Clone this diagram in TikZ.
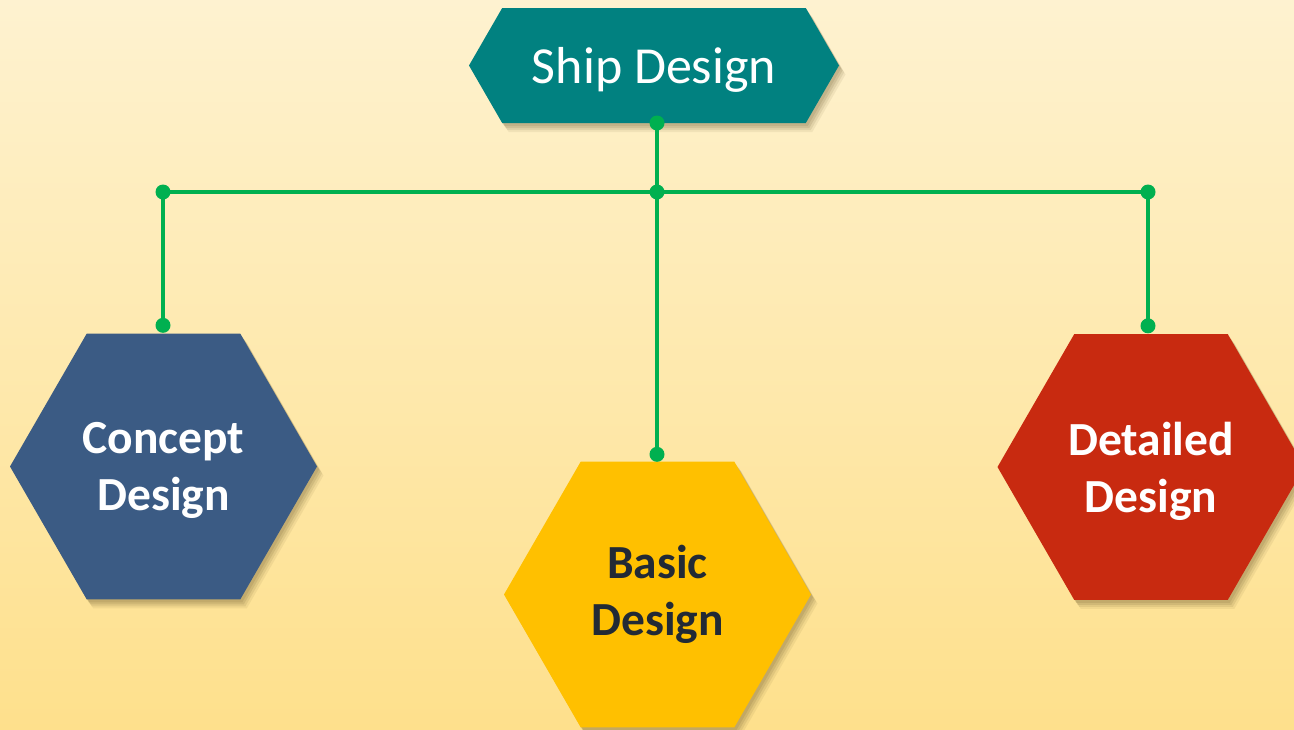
\documentclass[tikz,border=0pt]{standalone}
\usepackage{fontspec}
\setmainfont{Carlito}
\usetikzlibrary{shapes.geometric,shapes.symbols,calc}
\definecolor{bgtop}{HTML}{FEF2D0}
\definecolor{bgbot}{HTML}{FEE08C}
\definecolor{teal}{HTML}{018180}
\definecolor{hexblue}{HTML}{3B5B84}
\definecolor{hexyellow}{HTML}{FFC000}
\definecolor{hexred}{HTML}{C82A10}
\definecolor{darktext}{HTML}{222A35}
\definecolor{linkgreen}{HTML}{00B050}
\definecolor{shadowcol}{HTML}{5A4A20}
\tikzset{
  hexshadow/.style={
    preaction={fill=shadowcol,fill opacity=0.12,draw=none,transform canvas={xshift=2pt,yshift=-3pt}},
    preaction={fill=shadowcol,fill opacity=0.12,draw=none,transform canvas={xshift=3.5pt,yshift=-5pt}},
    preaction={fill=shadowcol,fill opacity=0.10,draw=none,transform canvas={xshift=5pt,yshift=-7pt}},
    preaction={fill=shadowcol,fill opacity=0.08,draw=none,transform canvas={xshift=6.5pt,yshift=-9pt}}},
  hexbox/.style={regular polygon,regular polygon sides=6,minimum size=307pt,inner sep=0pt,
     draw=none,align=center,font=\bfseries\fontsize{47.5}{57}\selectfont,hexshadow},
  topbox/.style={signal,signal to=west and east,signal pointer angle=120,minimum width=370pt,
     minimum height=115pt,inner sep=0pt,fill=teal,text=white,text depth=0pt,
     font=\fontsize{52}{60}\selectfont,hexshadow},
  link/.style={draw=linkgreen,line width=3.5pt},
  dotmark/.style={fill=linkgreen}
}
\begin{document}
\begin{tikzpicture}[x=1pt,y=-1pt]
\useasboundingbox (0,0) rectangle (1294,729);
\shade[top color=bgtop,bottom color=bgbot] (0,0) rectangle (1294,729);

\node[topbox] (top) at (654,65.5) {Ship Design};
\node[hexbox,fill=hexblue,text=white,text depth=0pt] (concept) at (163.5,466.5) {Concept\\Design};
\node[hexbox,fill=hexyellow,text=darktext] (basic) at (657.5,594.5) {Basic\\Design};
\node[hexbox,fill=hexred,text=white,text depth=0pt] (detailed) at (1151,467) {Detailed\\Design};

\coordinate (jc) at (657,192);
\coordinate (jl) at (163,192);
\coordinate (jr) at (1148,192);
\coordinate (ts) at (657,123);
\coordinate (dc) at ($(concept.north)+(0,-8)$);
\coordinate (db) at ($(basic.north)+(0,-7)$);
\coordinate (dd) at ($(detailed.north)+(0,-8)$);

\draw[link] (ts) -- (jc);
\draw[link] (jl) -- (jr);
\draw[link] (jl) -- (jl |- dc);
\draw[link] (jc) -- (jc |- db);
\draw[link] (jr) -- (jr |- dd);

\foreach \p in {ts,jc,jl,jr}{\fill[dotmark] (\p) circle (7.5);}
\fill[dotmark] (jl |- dc) circle (7.5);
\fill[dotmark] (jc |- db) circle (7.5);
\fill[dotmark] (jr |- dd) circle (7.5);
\end{tikzpicture}
\end{document}
